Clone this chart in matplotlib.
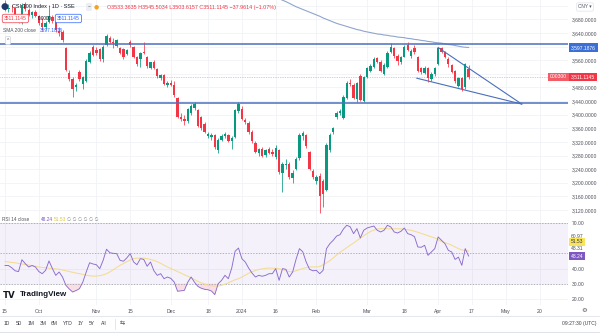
import numpy as np
import matplotlib
matplotlib.use("Agg")
import matplotlib.pyplot as plt
from matplotlib.lines import Line2D

# ---------------- data ----------------
# CSI 300 daily candles, trading days 15 Sep 2023 .. 16 Apr 2024 (index 0..137)
opens = [
    3722, 3710, 3714, 3712, 3688, 3670, 3726, 3708, 3692, 3700,
    3690, 3670, 3658, 3672, 3686, 3672, 3646, 3642, 3596, 3522,
    3506, 3480, 3524, 3490, 3500, 3556, 3600, 3590, 3592, 3562,
    3605, 3624, 3614, 3603, 3596, 3592, 3578, 3612, 3598, 3568,
    3564, 3584, 3568, 3538, 3556, 3534, 3508, 3516, 3486, 3494,
    3488, 3450, 3392, 3386, 3380, 3404, 3420, 3414, 3392, 3372,
    3336, 3334, 3340, 3296, 3326, 3336, 3340, 3322, 3334, 3410,
    3418, 3384, 3376, 3348, 3318, 3286, 3300, 3282, 3300, 3290,
    3276, 3296, 3228, 3252, 3254, 3214, 3240, 3272, 3336, 3340,
    3290, 3234, 3204, 3220, 3206, 3180, 3296, 3350, 3392, 3404,
    3390, 3450, 3494, 3486, 3446, 3514, 3440, 3512, 3528, 3540,
    3566, 3556, 3520, 3540, 3584, 3596, 3572, 3556, 3570, 3604,
    3572, 3596, 3568, 3536, 3522, 3536, 3504, 3520, 3550, 3596,
    3584, 3564, 3546, 3528, 3484, 3508, 3480, 3533.3635,
]
highs = [
    3736, 3725, 3722, 3716, 3694, 3728, 3732, 3712, 3704, 3708,
    3694, 3684, 3676, 3722, 3692, 3676, 3656, 3648, 3600, 3530,
    3512, 3492, 3530, 3514, 3562, 3586, 3606, 3598, 3596, 3605,
    3638, 3630, 3626, 3622, 3600, 3596, 3594, 3620, 3602, 3572,
    3584, 3612, 3572, 3556, 3560, 3538, 3518, 3520, 3498, 3502,
    3500, 3452, 3404, 3398, 3420, 3432, 3436, 3418, 3396, 3378,
    3350, 3346, 3344, 3330, 3342, 3348, 3344, 3336, 3418, 3436,
    3424, 3390, 3380, 3356, 3322, 3302, 3304, 3300, 3306, 3298,
    3310, 3298, 3262, 3270, 3262, 3236, 3276, 3346, 3352, 3344,
    3294, 3240, 3222, 3230, 3212, 3318, 3346, 3364, 3410, 3418,
    3458, 3498, 3504, 3492, 3496, 3520, 3514, 3540, 3550, 3568,
    3570, 3560, 3552, 3586, 3610, 3600, 3578, 3572, 3604, 3612,
    3592, 3604, 3572, 3540, 3542, 3540, 3524, 3540, 3600, 3598,
    3588, 3570, 3550, 3532, 3512, 3512, 3552, 3545.5034,
]
lows = [
    3704, 3700, 3700, 3686, 3668, 3666, 3705, 3690, 3685, 3688,
    3662, 3650, 3652, 3670, 3670, 3644, 3630, 3612, 3528, 3500,
    3452, 3470, 3500, 3476, 3496, 3552, 3572, 3575, 3558, 3555,
    3602, 3610, 3596, 3600, 3578, 3562, 3574, 3598, 3566, 3544,
    3540, 3578, 3538, 3534, 3534, 3508, 3502, 3486, 3480, 3484,
    3452, 3390, 3380, 3370, 3376, 3400, 3414, 3364, 3356, 3346,
    3330, 3326, 3300, 3286, 3322, 3330, 3320, 3300, 3330, 3406,
    3384, 3372, 3344, 3318, 3286, 3280, 3276, 3276, 3284, 3278,
    3270, 3226, 3172, 3240, 3212, 3200, 3236, 3268, 3326, 3302,
    3236, 3212, 3196, 3111, 3130, 3176, 3290, 3344, 3388, 3398,
    3386, 3446, 3484, 3446, 3438, 3440, 3436, 3508, 3524, 3536,
    3552, 3524, 3516, 3536, 3580, 3566, 3546, 3550, 3568, 3586,
    3566, 3578, 3524, 3518, 3518, 3496, 3500, 3514, 3546, 3580,
    3566, 3540, 3522, 3494, 3480, 3470, 3474, 3503.6157,
]
closes = [
    3708, 3714, 3712, 3690, 3672, 3722, 3710, 3694, 3700, 3690,
    3668, 3656, 3670, 3690, 3676, 3648, 3640, 3618, 3532, 3506,
    3476, 3486, 3504, 3510, 3558, 3582, 3576, 3580, 3562, 3600,
    3632, 3614, 3610, 3618, 3582, 3570, 3590, 3604, 3570, 3548,
    3580, 3582, 3542, 3554, 3538, 3514, 3516, 3490, 3494, 3488,
    3458, 3394, 3388, 3382, 3416, 3426, 3430, 3368, 3362, 3350,
    3344, 3340, 3306, 3326, 3338, 3342, 3324, 3330, 3414, 3430,
    3388, 3378, 3348, 3322, 3290, 3298, 3280, 3296, 3288, 3284,
    3302, 3232, 3254, 3256, 3218, 3230, 3270, 3340, 3346, 3308,
    3240, 3216, 3218, 3160, 3168, 3312, 3340, 3360, 3404, 3410,
    3452, 3494, 3490, 3450, 3492, 3444, 3510, 3536, 3542, 3564,
    3556, 3528, 3546, 3582, 3598, 3572, 3558, 3568, 3598, 3590,
    3586, 3584, 3528, 3524, 3536, 3508, 3520, 3536, 3596, 3584,
    3570, 3550, 3526, 3498, 3508, 3476, 3549.0759, 3511.1145,
]
# SMA 200 close, visible from bar 80 onwards
sma_start = 80
sma200 = [
    3746, 3741, 3736, 3732, 3727, 3722, 3717, 3713, 3709, 3705,
    3701, 3697, 3693, 3689, 3684, 3680, 3676, 3672, 3668, 3665,
    3662, 3659, 3656, 3653, 3650, 3648, 3645, 3643, 3641, 3639,
    3637, 3636, 3634, 3633, 3631, 3630, 3628, 3627, 3626, 3624,
    3623, 3621, 3620, 3618, 3617, 3615, 3614, 3612, 3611, 3610,
    3608, 3606, 3605, 3603, 3601, 3599, 3598, 3597.1876,
]
# RSI 14 and its moving average
rsi = [
    42.0, 42.0, 40.5, 38.5, 38.0, 45.8, 43.2, 41.0, 42.0, 41.0,
    38.0, 36.6, 38.8, 45.0, 40.0, 35.5, 37.7, 34.4, 28.9, 26.5,
    24.5, 25.5, 26.7, 31.1, 37.7, 43.8, 43.0, 42.5, 39.9, 45.4,
    52.7, 50.4, 50.0, 49.8, 45.4, 44.8, 47.0, 49.8, 44.3, 42.5,
    46.5, 46.0, 41.5, 44.3, 38.5, 35.5, 36.6, 33.3, 34.4, 33.5,
    31.1, 25.0, 25.3, 25.6, 31.0, 34.4, 31.0, 28.2, 27.0, 26.3,
    26.0, 25.2, 22.8, 30.0, 32.2, 35.5, 33.3, 40.3, 51.4, 53.5,
    46.5, 44.3, 40.3, 37.0, 34.4, 35.5, 34.9, 35.5, 36.6, 36.6,
    39.9, 32.2, 39.9, 39.5, 34.4, 37.7, 46.0, 53.1, 51.0, 44.3,
    39.5, 38.5, 38.8, 36.6, 38.8, 53.1, 56.4, 58.6, 61.4, 62.3,
    66.0, 68.5, 67.5, 63.0, 66.3, 60.1, 65.2, 66.7, 67.4, 68.0,
    65.2, 64.1, 65.2, 68.5, 67.4, 64.1, 63.4, 64.5, 66.7, 63.0,
    62.3, 61.0, 54.2, 54.0, 55.3, 48.7, 50.9, 53.1, 60.8, 58.6,
    56.4, 52.0, 50.9, 46.0, 47.5, 42.1, 53.1, 48.24,
]
rsi_ma = [
    44.6, 44.3, 44.0, 43.8, 43.3, 43.0, 42.6, 42.3, 41.9, 41.5,
    41.0, 40.7, 40.5, 40.2, 40.0, 39.8, 39.5, 39.0, 38.5, 38.0,
    37.5, 37.0, 36.6, 36.1, 35.6, 35.2, 35.0, 35.0, 35.3, 35.8,
    36.6, 37.8, 39.2, 40.7, 42.1, 43.3, 44.5, 45.6, 46.5, 46.8,
    46.9, 46.8, 46.5, 46.0, 45.3, 44.5, 43.4, 42.2, 41.0, 40.1,
    39.0, 38.0, 37.0, 35.9, 34.9, 33.8, 32.8, 31.5, 30.6, 29.7,
    29.0, 28.6, 28.5, 28.5, 28.9, 29.7, 30.6, 31.6, 32.6, 33.3,
    34.4, 35.6, 36.9, 37.9, 38.7, 39.4, 39.8, 40.1, 40.3, 40.2,
    40.1, 39.9, 39.3, 38.6, 37.9, 37.9, 38.5, 39.3, 40.0, 40.6,
    41.0, 41.1, 41.0, 41.3, 42.5, 43.7, 45.2, 47.0, 48.9, 50.7,
    52.2, 53.8, 55.3, 56.8, 58.4, 60.0, 61.6, 63.0, 64.4, 65.3,
    66.0, 66.3, 66.3, 66.2, 66.2, 66.2, 66.2, 66.1, 65.9, 65.6,
    65.2, 64.6, 63.9, 63.1, 62.4, 61.6, 60.9, 60.1, 59.1, 57.8,
    57.0, 56.3, 55.4, 54.2, 53.1, 52.3, 51.8, 51.53,
]
rsi_side_values = ["60.97", "48.31"]

# date axis (trading-day index -> label)
tick_pos = [0, 10, 27, 37, 49, 60, 70, 80, 92, 107, 118, 128, 138, 148, 158]
tick_labels = ['15', 'Oct', 'Nov', '15', 'Dec', '18', '2024', '16',
               'Feb', 'Mar', '18', 'Apr', '17', 'May', '20']
price_ticks = list(range(3120, 3721, 40))

# drawings
level_prices = [3607, 3433]
tri_upper_x, tri_upper_y = [128, 152.7], [3597, 3431]
tri_lower_x, tri_lower_y = [121.7, 152.7], [3507, 3431]

for arr in (opens, highs, lows, closes, rsi, rsi_ma):
    assert len(arr) == 138, len(arr)
assert len(sma200) == 58

# ---------------- figure ----------------
plt.rcParams['font.family'] = ['Liberation Sans', 'DejaVu Sans']
fig = plt.figure(figsize=(6, 3.33), dpi=100)
fig.patch.set_facecolor('white')


def fx(px):
    return px / 600.0


def fy(py):
    return 1.0 - py / 333.0


BAR_PX, X0_PX, RIGHT_PX = 3.384, 5.0, 568.0
xlim = ((0 - X0_PX) / BAR_PX, (RIGHT_PX - X0_PX) / BAR_PX)
GREEN, RED = '#089981', '#f23645'
GRID = '#f0f2f6'
LABEL = '#4c4f59'
LINEBLUE = '#4a6fbe'

o = np.array(opens, float); h = np.array(highs, float)
l = np.array(lows, float); c = np.array(closes, float)
idx = np.arange(len(c))

# ---- main price pane ----
ax = fig.add_axes([0, fy(214), RIGHT_PX / 600, 214 / 333])
ax.set_xlim(*xlim)
ax.set_ylim(3108.2, 3736.7)
for s in ax.spines.values():
    s.set_visible(False)
ax.set_xticks(tick_pos)
ax.set_yticks(price_ticks)
ax.set_yticklabels(["" if v in (3600, 3520, 3720) else f"{v:,.4f}" for v in price_ticks])
ax.yaxis.tick_right()
ax.tick_params(axis='y', length=0, pad=3, labelsize=3.6, labelcolor=LABEL)
ax.tick_params(axis='x', length=0, labelbottom=False)
ax.grid(True, color=GRID, lw=0.6)
ax.set_axisbelow(True)

cols = np.where(c >= o, GREEN, RED)
ax.vlines(idx, l, h, colors=cols, lw=0.55, zorder=3)
ax.bar(idx, np.maximum(np.abs(c - o), 0.8), bottom=np.minimum(o, c), width=0.7,
       color=cols, lw=0, zorder=4)

ax.axhline(c[-1], color='#a3a6af', lw=0.5, ls=(0, (1, 1.5)), zorder=2)
ax.plot(np.arange(sma_start, sma_start + len(sma200)), sma200, color='#8fa5cf', lw=0.8, zorder=5)
for p in level_prices:
    ax.axhline(p, color=LINEBLUE, lw=1.1, zorder=5)
ax.plot(tri_upper_x, tri_upper_y, color=LINEBLUE, lw=0.8, zorder=5)
ax.plot(tri_lower_x, tri_lower_y, color=LINEBLUE, lw=0.8, zorder=5)

# axis price boxes
ytr = ax.get_yaxis_transform()
ax.text(571 / 568, sma200[-1], f"{sma200[-1]:,.4f}", transform=ytr, fontsize=3.6, color='white',
        va='center', ha='left', clip_on=False, zorder=20,
        bbox=dict(boxstyle='square,pad=0.35', fc='#3b6fd6', ec='none'))
ax.text(571 / 568, c[-1], f"{c[-1]:,.4f}", transform=ytr, fontsize=3.6, color='white',
        va='center', ha='left', clip_on=False, zorder=20,
        bbox=dict(boxstyle='square,pad=0.35', fc=RED, ec='none'))
ax.text(550 / 568, c[-1], "000300", transform=ytr, fontsize=3.6, color='white',
        va='center', ha='left', clip_on=False, zorder=20,
        bbox=dict(boxstyle='square,pad=0.35', fc='#f35b66', ec='none'))

# ---- RSI pane ----
ar = fig.add_axes([0, fy(305), RIGHT_PX / 600, 91 / 333])
ar.set_xlim(*xlim)
ar.set_ylim(15.96, 75.93)
for s in ar.spines.values():
    s.set_visible(False)
ar.set_xticks(tick_pos)
ar.set_xticklabels(tick_labels)
ar.set_yticks([20, 30, 40, 70])
ar.set_yticklabels(["20.00", "30.00", "40.00", "70.00"])
ar.yaxis.tick_right()
ar.tick_params(axis='y', length=0, pad=3, labelsize=3.6, labelcolor=LABEL)
ar.tick_params(axis='x', length=0, pad=3.0, labelsize=3.7, labelcolor=LABEL)
ar.grid(True, color=GRID, lw=0.6)
ar.set_axisbelow(True)

ar.axhspan(30, 70, color='#7e57c2', alpha=0.08, lw=0)
for lv in (70, 50, 30):
    ar.axhline(lv, color='#9598a1', lw=0.5, ls=(0, (2, 2)))
r = np.array(rsi)
ar.fill_between(idx, r, 30, where=r < 30, interpolate=True, color='#f6c3d0', alpha=0.55, lw=0)
ar.plot(idx, rsi_ma, color='#f3dc92', lw=0.75)
ar.plot(idx, r, color='#8a6bcc', lw=0.65)

rtr = ar.get_yaxis_transform()
ar.text(571 / 568, 60.97, rsi_side_values[0], transform=rtr, fontsize=3.6, color=LABEL,
        va='center', ha='left', clip_on=False)
ar.text(571 / 568, 52.9, rsi_side_values[1], transform=rtr, fontsize=3.6, color=LABEL,
        va='center', ha='left', clip_on=False)
ar.text(571 / 568, 57.5, f"{rsi_ma[-1]:.2f}", transform=rtr, fontsize=3.6, color='#3a3a3a',
        va='center', ha='left', clip_on=False, zorder=20,
        bbox=dict(boxstyle='square,pad=0.35', fc='#f7e45c', ec='none'))
ar.text(571 / 568, 48.24, f"{rsi[-1]:.2f}", transform=rtr, fontsize=3.6, color='white',
        va='center', ha='left', clip_on=False, zorder=20,
        bbox=dict(boxstyle='square,pad=0.35', fc='#7e57c2', ec='none'))


# ---- header / chrome texts ----
def ftext(x, y, s, size=3.8, color='#131722', ha='left', weight='normal', bbox=None, family=None):
    kw = {}
    if family is not None:
        kw['family'] = family
    fig.text(fx(x), fy(y), s, fontsize=size, color=color, ha=ha, va='center',
             fontweight=weight, bbox=bbox, zorder=30, **kw)


ftext(4.5, 7, "●", size=6.5, color='#24386b', ha='center', family=['DejaVu Sans'])
ftext(12, 7, "CSI 300 Index · 1D · SSE", size=4.0)
ftext(89, 7, "−", size=3.6, color='#787b86', ha='center',
      bbox=dict(boxstyle='round,pad=0.3', fc='#eceef2', ec='none'))
ftext(96.5, 7, "●", size=4.2, color='#f7a21b', ha='center', family=['DejaVu Sans'])
chg = c[-1] - c[-2]
pct = chg / c[-2] * 100
ohlc = (f"O{o[-1]:.4f} H{h[-1]:.4f} L{l[-1]:.4f} C{c[-1]:.4f} "
        f"{chg:.4f} ({pct:.2f}%)").replace("-", "−")
ftext(107, 7, ohlc, size=3.85, color=RED)

ftext(4, 18.5, f"{c[-1]:.4f}", size=3.6, color=RED,
      bbox=dict(boxstyle='round,pad=0.35', fc='white', ec=RED, lw=0.5))
ftext(38, 18.5, "0.0000", size=3.4, color='#131722')
ftext(57, 18.5, f"{c[-1]:.4f}", size=3.6, color='#2962ff',
      bbox=dict(boxstyle='round,pad=0.35', fc='white', ec='#2962ff', lw=0.5))
ftext(3, 30, "SMA 200 close", size=3.5, color='#50535e')
ftext(40, 30, f"{sma200[-1]:.4f}", size=3.5, color='#2962ff')
ftext(8, 40.5, "^", size=3.6, color='#50535e', ha='center',
      bbox=dict(boxstyle='round,pad=0.3', fc='white', ec='#d1d4dc', lw=0.5))

ftext(585, 7, "CNY ▾", size=3.4, color='#50535e', ha='center',
      bbox=dict(boxstyle='round,pad=0.35', fc='white', ec='#e0e3eb', lw=0.5))

# RSI header
ftext(2.5, 219.5, "RSI 14 close", size=3.4, color='#50535e')
ftext(40.5, 219.5, f"{rsi[-1]:.2f}", size=3.4, color='#7e57c2')
ftext(53.5, 219.5, f"{rsi_ma[-1]:.2f}", size=3.4, color='#e3c431')
ftext(67, 219.5, "∅ ∅ ∅ ∅ ∅ ∅", size=3.3, color='#787b86', family=['DejaVu Sans'])

# TradingView logo
ftext(3, 295, "TV", size=6.2, weight='heavy', color='#131722', family=['DejaVu Sans'])
ftext(20, 295, "TradingView", size=5.8, weight='bold', color='#131722')

# gear icon
ftext(584, 311, "⚙", size=4.6, color='#50535e', ha='center', family=['DejaVu Sans'])

# bottom toolbar
fig.add_artist(Line2D([0, 1], [fy(315.5), fy(315.5)], transform=fig.transFigure,
                      color='#e0e3eb', lw=0.6))
fig.add_artist(Line2D([0, 1], [fy(332.3), fy(332.3)], transform=fig.transFigure,
                      color='#e0e3eb', lw=0.8))
fig.add_artist(Line2D([fx(115), fx(115)], [fy(319), fy(329)], transform=fig.transFigure,
                      color='#e0e3eb', lw=0.6))
for xpos, lab in zip([7, 19, 31, 43, 54.5, 68, 81, 92, 104],
                     ['1D', '5D', '1M', '3M', '6M', 'YTD', '1Y', '5Y', 'All']):
    ftext(xpos, 323.8, lab, size=3.6, color='#3d4049', ha='center')
ftext(122, 323.8, "⇆", size=4.4, color='#3d4049', ha='center', family=['DejaVu Sans'])
ftext(597, 323.8, "09:27:30 (UTC)", size=3.6, color='#3d4049', ha='right')

fig.savefig("out.png", dpi=100, facecolor='white')
